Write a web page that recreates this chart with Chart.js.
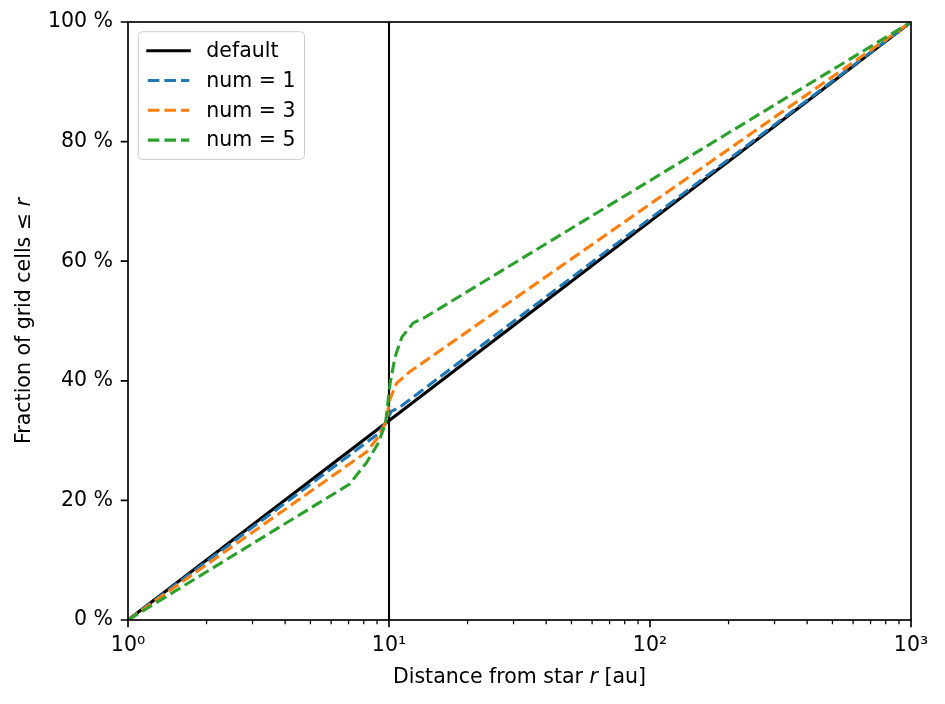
<!DOCTYPE html>
<html>
<head>
<meta charset="utf-8">
<title>Fraction of grid cells</title>
<script src="https://cdn.jsdelivr.net/npm/chart.js@4.4.1/dist/chart.umd.min.js"></script>
<style>
  html, body { margin: 0; padding: 0; background: #ffffff; }
  #wrap { width: 945px; height: 704px; }
</style>
</head>
<body>
<div id="wrap"><canvas id="chart" width="945" height="704"></canvas></div>
<script>
// Valeurs (x en au, y en %)
const xDefault = [1, 1000];
const yDefault = [0, 100];

const xNum1 = [1, 9.0, 9.7, 10.2, 11.0, 1000];
const yNum1 = [0, 31.0, 32.9, 34.9, 35.6, 100];

const xNum3 = [1, 8.2, 9.1, 9.7, 10.1, 10.7, 12.0, 1000];
const yNum3 = [0, 28.1, 30.6, 33.0, 37.0, 39.6, 41.5, 100];

const xNum5 = [1, 7.05, 8.2, 9.1, 9.7, 10.1, 10.55, 11.2, 12.4, 13.6, 1000];
const yNum5 = [0, 22.7, 26.3, 29.6, 32.9, 39.6, 44.0, 47.3, 49.7, 50.5, 100];

// ligne verticale à r = 10 au
const xVline = [10, 10];
const yVline = [0, 100];

const xMajorTicks = [1, 10, 100, 1000];
const xMajorLabels = ['10⁰', '10¹', '10²', '10³'];
const yTicks = [0, 20, 40, 60, 80, 100];

const FONT = '"DejaVu Sans", "Liberation Sans", sans-serif';
const FONT_SIZE = 20.5;
const DASH = [11.6, 5];

function toPoints(xs, ys) {
  return xs.map((x, i) => ({ x: x, y: ys[i] }));
}

// graduations mineures 2..9 de chaque décade
const xMinorTicks = [];
for (let d = 1; d < 1000; d *= 10) {
  for (let k = 2; k <= 9; k++) xMinorTicks.push(k * d);
}

// Cadre + graduations façon matplotlib
const framePlugin = {
  id: 'frame',
  afterDatasetsDraw(chart) {
    const { ctx, chartArea: a, scales } = chart;
    ctx.save();
    ctx.strokeStyle = '#000';
    ctx.lineWidth = 1.25;
    ctx.beginPath();
    xMinorTicks.forEach(v => {
      const px = scales.x.getPixelForValue(v);
      ctx.moveTo(px, a.bottom);
      ctx.lineTo(px, a.bottom + 4.2);
    });
    ctx.stroke();
    ctx.lineWidth = 1.67;
    ctx.beginPath();
    xMajorTicks.forEach(v => {
      const px = scales.x.getPixelForValue(v);
      ctx.moveTo(px, a.bottom);
      ctx.lineTo(px, a.bottom + 7.3);
    });
    yTicks.forEach(v => {
      const py = scales.y.getPixelForValue(v);
      ctx.moveTo(a.left, py);
      ctx.lineTo(a.left - 7.3, py);
    });
    ctx.stroke();
    ctx.strokeRect(a.left, a.top, a.right - a.left, a.bottom - a.top);
    ctx.restore();
  }
};

// Titres des axes avec le « r » en italique
const axisTitlePlugin = {
  id: 'axisTitles',
  afterDraw(chart) {
    const { ctx, chartArea: a } = chart;
    const upright = FONT_SIZE + 'px ' + FONT;
    const italic = 'oblique ' + FONT_SIZE + 'px ' + FONT;
    function drawParts(parts, cx, cy) {
      let total = 0;
      parts.forEach(p => { ctx.font = p[1] ? italic : upright; total += ctx.measureText(p[0]).width; });
      let x = cx - total / 2;
      parts.forEach(p => {
        ctx.font = p[1] ? italic : upright;
        ctx.fillText(p[0], x, cy);
        x += ctx.measureText(p[0]).width;
      });
    }
    ctx.save();
    ctx.fillStyle = '#000';
    ctx.textBaseline = 'middle';
    ctx.textAlign = 'left';
    drawParts([['Distance from star ', false], ['r', true], [' [au]', false]], (a.left + a.right) / 2, 678);
    ctx.translate(25, (a.top + a.bottom) / 2);
    ctx.rotate(-Math.PI / 2);
    drawParts([['Fraction of grid cells ≤ ', false], ['r', true]], 0, 0);
    ctx.restore();
  }
};

// Légende dans le coin supérieur gauche, avec cadre arrondi
const legendPlugin = {
  id: 'mplLegend',
  afterDraw(chart) {
    const { ctx, chartArea: a } = chart;
    const items = chart.data.datasets.filter(ds => ds.label);
    ctx.save();
    ctx.font = FONT_SIZE + 'px ' + FONT;
    const textOffset = 68;
    const rowGap = 29.8;
    let maxW = 0;
    items.forEach(ds => { maxW = Math.max(maxW, ctx.measureText(ds.label).width); });
    const bx = a.left + 10.3, by = a.top + 9.7;
    const bw = textOffset + maxW + 9, bh = 19 + (items.length - 1) * rowGap + 19.3;
    ctx.beginPath();
    ctx.roundRect(bx, by, bw, bh, 4);
    ctx.fillStyle = 'rgba(255,255,255,0.8)';
    ctx.fill();
    ctx.strokeStyle = '#cccccc';
    ctx.lineWidth = 1;
    ctx.stroke();
    items.forEach((ds, i) => {
      const cy = by + 19 + i * rowGap;
      ctx.beginPath();
      ctx.setLineDash(ds.borderDash || []);
      ctx.lineCap = ds.borderDash ? 'butt' : 'square';
      ctx.strokeStyle = ds.borderColor;
      ctx.lineWidth = ds.borderWidth;
      ctx.moveTo(bx + 9.5, cy);
      ctx.lineTo(bx + 51, cy);
      ctx.stroke();
      ctx.setLineDash([]);
      ctx.fillStyle = '#000';
      ctx.textBaseline = 'middle';
      ctx.textAlign = 'left';
      ctx.fillText(ds.label, bx + textOffset, cy + 1);
    });
    ctx.restore();
  }
};

const lineStyle = {
  pointRadius: 0,
  pointHoverRadius: 0,
  tension: 0,
  borderWidth: 3.1,
  fill: false,
  borderJoinStyle: 'round'
};

const ctx = document.getElementById('chart').getContext('2d');
const chart = new Chart(ctx, {
  type: 'line',
  data: {
    datasets: [
      { ...lineStyle, data: toPoints(xVline, yVline), borderColor: '#000000', borderWidth: 2.1, order: 10 },
      { ...lineStyle, label: 'default', data: toPoints(xDefault, yDefault), borderColor: '#000000', borderCapStyle: 'square', order: 4 },
      { ...lineStyle, label: 'num = 1', data: toPoints(xNum1, yNum1), borderColor: '#1f77b4', borderDash: DASH, borderCapStyle: 'butt', order: 3 },
      { ...lineStyle, label: 'num = 3', data: toPoints(xNum3, yNum3), borderColor: '#ff7f0e', borderDash: DASH, borderCapStyle: 'butt', order: 2 },
      { ...lineStyle, label: 'num = 5', data: toPoints(xNum5, yNum5), borderColor: '#2ca02c', borderDash: DASH, borderCapStyle: 'butt', order: 1 }
    ]
  },
  options: {
    responsive: false,
    animation: false,
    devicePixelRatio: 1,
    layout: { padding: { top: 0, right: 34, left: 0, bottom: 0 } },
    plugins: {
      legend: { display: false },
      tooltip: { enabled: false }
    },
    scales: {
      x: {
        type: 'logarithmic',
        min: 1,
        max: 1000,
        grid: { display: false, drawTicks: false },
        border: { display: false },
        afterBuildTicks: scale => {
          scale.ticks = xMajorTicks.map(v => ({ value: v }));
        },
        afterFit: scale => { scale.height = 84; },
        ticks: {
          autoSkip: false,
          maxRotation: 0,
          padding: 13,
          color: '#000',
          font: { family: FONT, size: FONT_SIZE },
          callback: value => {
            const i = xMajorTicks.indexOf(value);
            return i >= 0 ? xMajorLabels[i] : '';
          }
        },
        title: { display: false }
      },
      y: {
        min: 0,
        max: 100,
        grid: { display: false, drawTicks: false },
        border: { display: false },
        afterBuildTicks: scale => {
          scale.ticks = yTicks.map(v => ({ value: v }));
        },
        afterFit: scale => {
          scale.width = 128;
          scale.paddingTop = 22;
        },
        ticks: {
          padding: 15,
          color: '#000',
          font: { family: FONT, size: FONT_SIZE },
          callback: value => value + ' %'
        },
        title: { display: false }
      }
    }
  },
  plugins: [framePlugin, axisTitlePlugin, legendPlugin]
});
</script>
</body>
</html>
